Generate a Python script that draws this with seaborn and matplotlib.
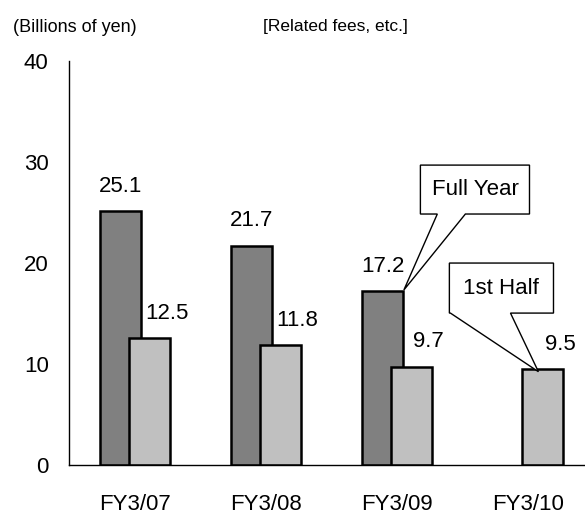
import matplotlib
matplotlib.use("Agg")
import matplotlib.pyplot as plt
from matplotlib.patches import Polygon
import numpy as np
import pandas as pd
import seaborn as sns

years = ["FY3/07", "FY3/08", "FY3/09", "FY3/10"]
full_year = [25.1, 21.7, 17.2, np.nan]
first_half = [12.5, 11.8, 9.7, 9.5]
y_ticks = [0, 10, 20, 30, 40]

df = pd.DataFrame({
    "year": years * 2,
    "value": full_year + first_half,
    "series": ["Full Year"] * 4 + ["1st Half"] * 4,
})

sns.set_style("white")
plt.rcParams["font.family"] = ["Liberation Sans Narrow", "Liberation Sans", "DejaVu Sans"]
plt.rcParams["text.color"] = "black"
plt.rcParams["xtick.color"] = "black"
plt.rcParams["ytick.color"] = "black"

FS = 16

fig = plt.figure(figsize=(5.85, 5.16), dpi=100)
ax = fig.add_axes([0.1188, 0.0998, 0.8966, 0.782])

sns.barplot(data=df, x="year", y="value", hue="series", palette=["#808080", "#c0c0c0"],
            width=0.44, edgecolor="black", linewidth=1.8, errorbar=None, legend=False, ax=ax)

# widen the dodged bars so they overlap like the original
bar_w = 0.313
for cont in ax.containers:
    for bar in cont:
        cx = bar.get_x() + bar.get_width() / 2
        bar.set_width(bar_w)
        bar.set_x(cx - bar_w / 2)

# value labels
for i, v in enumerate(full_year):
    if not np.isnan(v):
        ax.text(i - 0.11, v + 1.9, f"{v:.1f}", ha="center", va="baseline", fontsize=FS)
for i, v in enumerate(first_half):
    ax.text(i + 0.24, v + 1.9, f"{v:.1f}", ha="center", va="baseline", fontsize=FS)

ax.set_xlim(-0.5, 3.5)
ax.set_ylim(0, 40)
ax.set_yticks(y_ticks)
ax.set_xlabel("")
ax.set_ylabel("")
sns.despine(ax=ax, top=True, right=True)
for s in ["left", "bottom"]:
    ax.spines[s].set_color("black")
    ax.spines[s].set_linewidth(1.0)

ax.tick_params(axis="y", direction="in", length=6, width=1.0, pad=15, labelsize=FS)
ax.tick_params(axis="x", which="major", length=0, pad=21, labelsize=FS)
ax.set_xticks([0.5, 1.5, 2.5, 3.5], minor=True)
ax.tick_params(axis="x", which="minor", direction="in", length=6, width=0.8, color="#666666")

# callouts
def callout(box, base, tip, label):
    x0, x1, yb, yt = box
    xa, xb = base
    verts = [(x0, yt), (x1, yt), (x1, yb), (xb, yb), tip, (xa, yb), (x0, yb)]
    ax.add_patch(Polygon(verts, closed=True, facecolor="white", edgecolor="black",
                         linewidth=1.0, zorder=5, clip_on=False))
    ax.text((x0 + x1) / 2, (yb + yt) / 2, label, ha="center", va="center",
            fontsize=FS, zorder=6)

callout((2.176, 3.008, 24.83, 29.68), (2.305, 2.519), (2.05, 17.3), "Full Year")
callout((2.397, 3.191, 15.01, 19.97), (2.405, 2.863), (3.076, 9.2), "1st Half")

fig.text(13 / 585, 1 - 27 / 516, "(Billions of yen)", ha="left", va="center", fontsize=13)
fig.text(263 / 585, 1 - 27 / 516, "[Related fees, etc.]", ha="left", va="center", fontsize=12.5)

fig.savefig("out.png", dpi=100)
